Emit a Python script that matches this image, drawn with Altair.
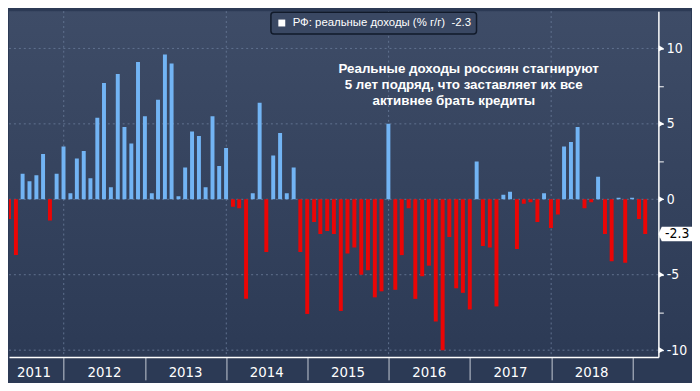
import calendar
import altair as alt
import pandas as pd

# ---------------- data ----------------
series_name = "РФ: реальные доходы (% г/г)"
start_year, start_month = 2011, 4
values = [
    # 2011 Apr-Dec
    -1.3, -3.7, 1.7, 1.2, 1.6, 3.0, -1.4, 1.7, 3.5,
    # 2012
    0.4, 2.7, 3.2, 1.4, 5.4, 7.7, 0.8, 8.3, 4.8, 3.7, 9.1, 5.5,
    # 2013
    0.4, 6.6, 9.6, 9.0, 0.2, 2.1, 4.5, 4.2, 0.8, 5.5, 2.2, 3.4,
    # 2014
    -0.5, -0.6, -6.6, 0.4, 6.4, -3.5, 2.9, 4.4, 0.4, 2.1, -3.5, -7.6,
    # 2015
    -1.5, -2.3, -2.1, -2.3, -7.4, -3.6, -3.2, -5.0, -4.7, -6.5, -6.1, 5.0,
    # 2016
    -6.0, -3.7, -0.6, -6.6, -5.1, -4.4, -8.1, -10.0, -2.5, -5.9, -6.2, -7.3,
    # 2017
    2.5, -3.1, -3.2, -7.1, 0.3, 0.5, -3.3, -0.3, -0.2, -1.5, 0.4, -1.9,
    # 2018
    -1.0, 3.5, 3.8, 4.8, -0.6, -0.2, 1.5, -2.3, -4.1, 0.1, -4.2, 0.1,
    # 2019 Jan-Feb
    -1.3, -2.3,
]
year_labels = ["2011", "2012", "2013", "2014", "2015", "2016", "2017", "2018"]
year_label_dates = ["2011-08-20", "2012-07-02", "2013-07-02", "2014-07-02",
                    "2015-07-02", "2016-07-02", "2017-07-02", "2018-07-02"]
year_ticks = [2012, 2013, 2014, 2015, 2016, 2017, 2018, 2019]
grid_dates = ["2012-01-01", "2014-01-01", "2016-01-01", "2018-01-01"]
y_major = [10, 5, 0, -5, -10]
y_ticks = [-10, -7.5, -5, -2.5, 0, 2.5, 5, 7.5, 10]
note_lines = ["Реальные доходы россиян стагнируют",
              "5 лет подряд, что заставляет их все",
              "активнее брать кредиты"]

# month-end dates for each value
dates = []
yy, mm = start_year, start_month
for _ in values:
    dates.append(f"{yy}-{mm:02d}-{calendar.monthrange(yy, mm)[1]:02d}")
    mm += 1
    if mm > 12:
        mm, yy = 1, yy + 1

df = pd.DataFrame({"date": dates, "value": values})
last_val = values[-1]
last_label = f"{last_val:.1f}"

# ---------------- styling ----------------
W, H = 657, 350
BLUE = "#72b4f4"
RED = "#eb0505"
GRID = "#617290"
NARROW = "Liberation Sans Narrow, DejaVu Sans Condensed, sans-serif"
SANS = "Liberation Sans, Arial, sans-serif"

x_scale = alt.Scale(
    type="utc",
    domain=[alt.DateTime(year=2011, month=5, date=22, utc=True),
            alt.DateTime(year=2019, month=4, date=6, utc=True)],
)
y_scale = alt.Scale(domain=[-10.46, 12.47], nice=False, zero=False)

x_axis = alt.Axis(
    values=[alt.DateTime(year=y, month=1, date=1, utc=True) for y in year_ticks],
    labels=False, grid=False, tickSize=23, tickColor="#c5cad4", tickWidth=1,
    domainColor="white", domainWidth=1.5, title=None, zindex=2,
)
y_axis = alt.Axis(
    orient="right", values=y_ticks, grid=False,
    labelExpr="datum.value % 5 == 0 ? '' + datum.value : ''",
    tickSize=5, tickColor="white", tickWidth=1,
    domainColor="white", domainWidth=1.5, title=None, zindex=2,
    labelColor="white", labelFont=NARROW, labelFontSize=14, labelPadding=3,
)


def X(field):
    return alt.X(field, scale=x_scale, axis=x_axis, title=None)


def Y(field):
    return alt.Y(field, scale=y_scale, axis=y_axis, title=None)


one = pd.DataFrame({"a": [0]})

bg = alt.Chart(one).mark_rect(
    color=alt.Gradient(
        gradient="linear",
        stops=[alt.GradientStop(color="#3e4c67", offset=0),
               alt.GradientStop(color="#2c3a55", offset=1)],
        x1=0, x2=0, y1=0, y2=1,
    )
).encode(x=alt.value(0), x2=alt.value(690), y=alt.value(0), y2=alt.value(H))

hgrid = alt.Chart(pd.DataFrame({"v": y_major})).mark_rule(
    color=GRID, strokeDash=[2, 3], strokeWidth=1
).encode(y=Y("v:Q"), x=alt.value(0), x2=alt.value(W))

vgrid = alt.Chart(pd.DataFrame({"d": grid_dates})).mark_rule(
    color=GRID, strokeDash=[2, 3], strokeWidth=1
).encode(x=X("d:T"), y=alt.value(0), y2=alt.value(H))

bars = alt.Chart(df).mark_bar(size=4, clip=True).encode(
    x=X("date:T"),
    y=Y("value:Q"),
    y2=alt.datum(0),
    color=alt.condition("datum.value >= 0", alt.value(BLUE), alt.value(RED)),
)

tri = alt.Chart(pd.DataFrame({"v": y_major})).mark_point(
    shape="triangle-right", filled=True, color="white", opacity=1, size=40
).encode(y=Y("v:Q"), x=alt.value(W + 3))

last_df = pd.DataFrame({"v": [last_val], "lbl": [last_label]})
flag = alt.Chart(last_df).mark_point(
    shape="M-1,0 L-0.8,-0.43 L1,-0.43 L1,0.43 L-0.8,0.43 Z",
    filled=True, color="white", opacity=1, size=34 * 34,
).encode(y=Y("v:Q"), x=alt.value(674))
flag_text = alt.Chart(last_df).mark_text(
    color="black", font=NARROW, fontSize=14, align="center", baseline="middle"
).encode(y=Y("v:Q"), x=alt.value(676), text="lbl:N")

years = alt.Chart(pd.DataFrame({"d": year_label_dates, "t": year_labels})).mark_text(
    color="white", font=NARROW, fontSize=15, align="center", baseline="middle"
).encode(x=X("d:T"), y=alt.value(H + 15), text="t:N")

leg_box = alt.Chart(one).mark_rect(
    fill="#3a4863", stroke="#111a2a", strokeWidth=1.5, cornerRadius=3
).encode(x=alt.value(265), x2=alt.value(473), y=alt.value(1), y2=alt.value(23))
leg_sq = alt.Chart(one).mark_point(
    shape="square", filled=True, color="white", opacity=1, size=49
).encode(x=alt.value(276), y=alt.value(12))
leg_txt = alt.Chart(pd.DataFrame({"t": [f"{series_name}\u00a0\u00a0{last_label}"]})).mark_text(
    color="white", font=SANS, fontSize=11.5, align="left", baseline="middle"
).encode(x=alt.value(287), y=alt.value(12), text="t:N")

note_x = [465, 460, 450]
note_y = [59, 75, 91]
notes = [
    alt.Chart(pd.DataFrame({"t": [line]})).mark_text(
        color="white", font=SANS, fontSize=13.5, fontWeight="bold",
        align="center", baseline="middle"
    ).encode(x=alt.value(nx), y=alt.value(ny), text="t:N")
    for line, nx, ny in zip(note_lines, note_x, note_y)
]

chart = alt.layer(
    bg, hgrid, vgrid, bars, tri, flag, flag_text, years,
    leg_box, leg_sq, leg_txt, *notes
).properties(
    width=W, height=H, background="#2c3a55", padding=0
).configure_view(stroke=None)

chart.save("out.html", embed_options={"renderer": "svg", "actions": False})
